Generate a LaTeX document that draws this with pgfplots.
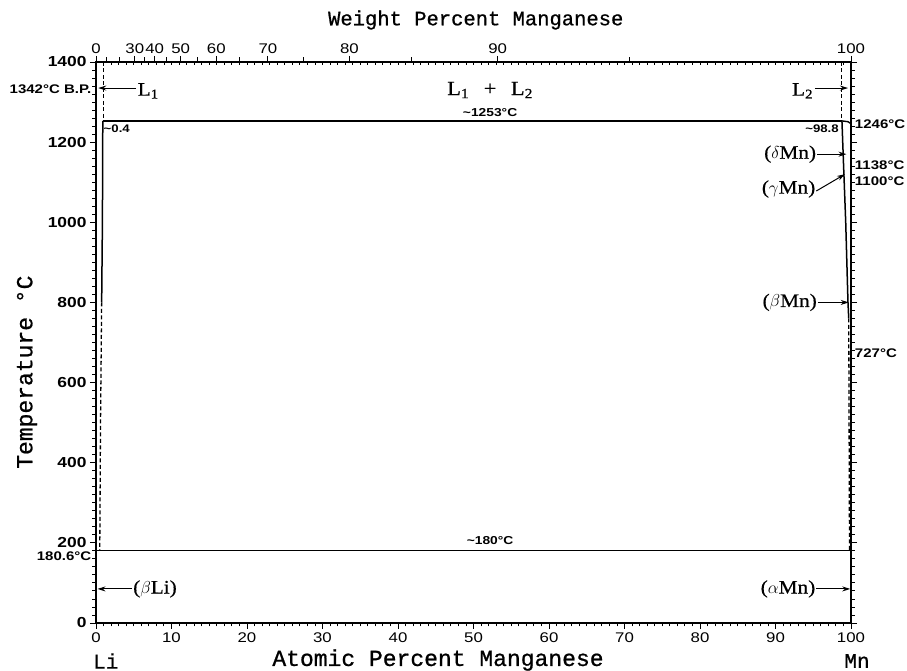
\documentclass[border=0pt]{standalone}
\usepackage{fontspec}
\usepackage{pgfplots}
\pgfplotsset{compat=1.18}
\usetikzlibrary{arrows.meta}
\newfontfamily\mono[FakeBold=0.8]{Liberation Mono}
\newfontfamily\wide[FakeStretch=1.2]{Liberation Sans}
\newfontfamily\ser[FakeStretch=1.12, FakeBold=0.6]{Liberation Serif}
\begin{document}
\begin{tikzpicture}
\pgfplotsset{
  base/.style={scale only axis, width=755pt, height=561pt,
    xmin=0, xmax=100, ymin=0, ymax=1400, clip=false,
    /pgf/number format/assume math mode=true, /pgf/number format/1000 sep={},
    every tick/.style={black, line width=0.9pt},
    tick label style={font=\wide\bfseries\fontsize{14.5}{16}\selectfont},
  },
}
% top weight-percent axis
\begin{axis}[base, axis x line*=top, hide y axis,
  xtick={0,5.137,7.768,11.217,15.932,22.768,33.571,53.207,100},
  xticklabels={0,30,40,50,60,70,80,90,100},
  minor xtick={1.384,3.062,6.370,9.369,13.376,19.004,27.485,41.723,70.593},
  tick align=outside, major tick length=6pt, minor tick length=4.5pt,
  axis line style={line width=1.3pt},
  xticklabel style={font=\wide\fontsize{14}{16}\selectfont, yshift=-1pt}]
\addplot[draw=none] coordinates {(0,0)(100,1400)};
\end{axis}
% top atomic-percent small inner ticks
\begin{axis}[base, axis x line*=top, hide y axis,
  xtick={1,2,...,99}, xticklabels={}, tick align=inside, major tick length=3.5pt,
  axis line style={line width=1.3pt}]
\addplot[draw=none] coordinates {(0,0)(100,1400)};
\end{axis}
% main axis
\begin{axis}[base,
  xtick={0,10,...,100}, minor x tick num=9,
  ytick={0,200,...,1400}, minor y tick num=9,
  xtick pos=left, ytick pos=both, yticklabel pos=left,
  tick align=outside, major tick length=6pt, minor tick length=3.5pt,
  axis line style={line width=1.3pt},
  xticklabel style={font=\wide\fontsize{14}{16}\selectfont},
]
% invariant lines
\addplot[line width=1.6pt] coordinates {(0.9,1253)(98.8,1253)};
\addplot[line width=1.4pt] coordinates {(98.8,1253)(99.6,1251)(100,1246)};
\addplot[line width=1.6pt] coordinates {(0,180.6)(100,180.6)};
% L1 / L2 boundaries above monotectic
\addplot[line width=1.3pt, dash pattern=on 4pt off 2.5pt] coordinates {(1.0,1400)(1.0,1253)};
\addplot[line width=1.3pt, dash pattern=on 4pt off 2.5pt] coordinates {(98.7,1400)(98.7,1253)};
% Li-side solvus
\addplot[line width=1.5pt] coordinates {(0.9,1253)(0.85,1000)(0.75,800)};
\addplot[line width=1.3pt, dash pattern=on 4pt off 2.5pt] coordinates {(0.75,800)(0.6,500)(0.5,180.6)};
% Mn-side solvus
\addplot[line width=1.5pt] coordinates {(98.8,1253)(99.0,1150)(99.3,1000)(99.6,800)(99.7,760)};
\addplot[line width=1.3pt, dash pattern=on 4pt off 2.5pt] coordinates {(99.7,760)(99.8,180.6)};
% arrows
\addplot[line width=1pt, -{Stealth[length=8pt,width=5pt]}] coordinates {(5.3,1335)(0.3,1335)};
\addplot[line width=1pt, -{Stealth[length=8pt,width=5pt]}] coordinates {(95.2,1335)(99.6,1335)};
\addplot[line width=1pt, -{Stealth[length=8pt,width=5pt]}] coordinates {(95.5,1170)(99.4,1170)};
\addplot[line width=1pt, -{Stealth[length=8pt,width=5pt]}] coordinates {(95.4,1078)(99.2,1120)};
\addplot[line width=1pt, -{Stealth[length=8pt,width=5pt]}] coordinates {(95.6,800)(99.7,800)};
\addplot[line width=1pt, -{Stealth[length=8pt,width=5pt]}] coordinates {(95.4,85)(99.9,85)};
\addplot[line width=1pt, -{Stealth[length=8pt,width=5pt]}] coordinates {(4.8,85)(0.2,85)};
% phase labels
\node[font=\ser\fontsize{19}{21}\selectfont, anchor=west, inner sep=0pt] at (axis cs:5.5,1328) {L\textsubscript{1}};
\node[font=\ser\fontsize{19}{21}\selectfont, anchor=east, inner sep=0pt] at (axis cs:95.0,1328) {L\textsubscript{2}};
\node[font=\ser\fontsize{20}{22}\selectfont, inner sep=0pt] at (axis cs:52.2,1330) {L\textsubscript{1}\ \ \,+\ \ \,L\textsubscript{2}};
\node[font=\ser\fontsize{19}{21}\selectfont, anchor=east, inner sep=0pt] at (axis cs:95.4,1170) {($\delta$Mn)};
\node[font=\ser\fontsize{19}{21}\selectfont, anchor=east, inner sep=0pt] at (axis cs:95.3,1083) {($\gamma$Mn)};
\node[font=\ser\fontsize{19}{21}\selectfont, anchor=east, inner sep=0pt] at (axis cs:95.5,800) {($\beta$Mn)};
\node[font=\ser\fontsize{19}{21}\selectfont, anchor=east, inner sep=0pt] at (axis cs:95.3,85) {($\alpha$Mn)};
\node[font=\ser\fontsize{19}{21}\selectfont, anchor=west, inner sep=0pt] at (axis cs:4.9,85) {($\beta$Li)};
% temperature / composition labels
\node[font=\wide\bfseries\fontsize{12.5}{14}\selectfont, anchor=east, inner sep=0pt] at (axis cs:-0.6,1333) {1342°C B.P.};
\node[font=\wide\bfseries\fontsize{12.5}{14}\selectfont, anchor=east, inner sep=0pt] at (axis cs:-0.6,166) {180.6°C};
\node[font=\wide\bfseries\fontsize{11.5}{13}\selectfont, inner sep=0pt] at (axis cs:52.2,1275) {\textasciitilde1253°C};
\node[font=\wide\bfseries\fontsize{11.5}{13}\selectfont, inner sep=0pt] at (axis cs:52.2,206) {\textasciitilde180°C};
\node[font=\wide\bfseries\fontsize{11}{12}\selectfont, anchor=west, inner sep=0pt] at (axis cs:1.0,1234) {\textasciitilde0.4};
\node[font=\wide\bfseries\fontsize{11}{12}\selectfont, anchor=east, inner sep=0pt] at (axis cs:98.4,1234) {\textasciitilde98.8};
\node[font=\wide\bfseries\fontsize{12.5}{14}\selectfont, anchor=west, inner sep=0pt] at (axis cs:100.5,1245) {1246°C};
\node[font=\wide\bfseries\fontsize{12.5}{14}\selectfont, anchor=west, inner sep=0pt] at (axis cs:100.5,1143) {1138°C};
\node[font=\wide\bfseries\fontsize{12.5}{14}\selectfont, anchor=west, inner sep=0pt] at (axis cs:100.5,1103) {1100°C};
\node[font=\wide\bfseries\fontsize{12.5}{14}\selectfont, anchor=west, inner sep=0pt] at (axis cs:100.5,674) {727°C};
% axis titles
\node[font=\mono\fontsize{23}{25}\selectfont, rotate=90, inner sep=0pt] at ([xshift=-69pt]axis cs:0,626) {Temperature °C};
\node[font=\mono\fontsize{23}{25}\selectfont, inner sep=0pt] at ([yshift=-37pt]axis cs:45.3,0) {Atomic Percent Manganese};
\node[font=\mono\fontsize{20.5}{23}\selectfont, inner sep=0pt] at ([yshift=42pt]axis cs:50.3,1400) {Weight Percent Manganese};
\node[font=\mono\fontsize{21}{23}\selectfont, inner sep=0pt] at ([yshift=-38pt]axis cs:1.3,0) {Li};
\node[font=\mono\fontsize{21}{23}\selectfont, inner sep=0pt] at ([yshift=-38pt]axis cs:100.8,0) {Mn};
\coordinate (sw) at (rel axis cs:0,0);
\coordinate (ne) at (rel axis cs:1,1);
\end{axis}
\pgfresetboundingbox
\path[use as bounding box] ([shift={(-96pt,-48pt)}]sw) rectangle ([shift={(56pt,62pt)}]ne);
\end{tikzpicture}
\end{document}
